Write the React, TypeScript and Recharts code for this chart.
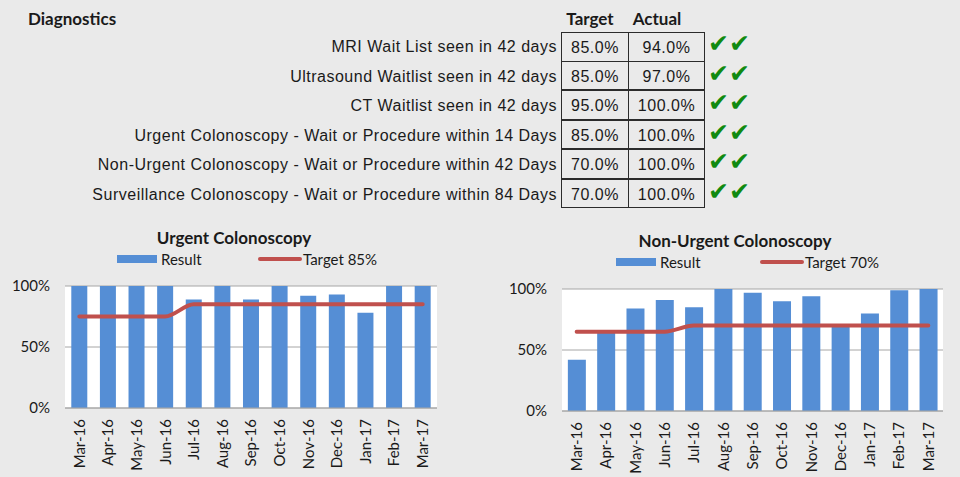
import React from 'react';
import { ComposedChart, Bar, Line, XAxis, YAxis, CartesianGrid } from 'recharts';

// table at the top
const measures = [
  'MRI Wait List seen in 42 days',
  'Ultrasound Waitlist seen in 42 days',
  'CT Waitlist seen in 42 days',
  'Urgent Colonoscopy - Wait or Procedure within 14 Days',
  'Non-Urgent Colonoscopy - Wait or Procedure within 42 Days',
  'Surveillance Colonoscopy - Wait or Procedure within 84 Days',
];
const targets = [85, 85, 95, 85, 70, 70];
const actuals = [94, 97, 100, 100, 100, 100];

// monthly charts
const months = [
  'Mar-16', 'Apr-16', 'May-16', 'Jun-16', 'Jul-16', 'Aug-16', 'Sep-16',
  'Oct-16', 'Nov-16', 'Dec-16', 'Jan-17', 'Feb-17', 'Mar-17',
];
const urgentResult = [100, 100, 100, 100, 89, 100, 89, 100, 92, 93, 78, 100, 100];
const urgentTarget = [75, 75, 75, 75, 85, 85, 85, 85, 85, 85, 85, 85, 85];
const nonUrgentResult = [42, 64, 84, 91, 85, 100, 97, 90, 94, 69, 80, 99, 100];
const nonUrgentTarget = [65, 65, 65, 65, 70, 70, 70, 70, 70, 70, 70, 70, 70];
const yTicks = [0, 50, 100];

const BLUE = '#558ed5';
const RED = '#c0504d';
const GRID = '#a6a6a6';
const BG = '#eaeaea';
const TEXT = '#1a1a1a';
const CHART_FONT = 'Lato, "Open Sans", sans-serif';
const TABLE_FONT = '"Liberation Sans", Arial, sans-serif';

const toRows = (result: number[], target: number[]) =>
  months.map((m, i) => ({ month: m, result: result[i], target: target[i] }));

const MonthTick = (props: any) => {
  const { x, y, payload } = props;
  return (
    <g transform={`translate(${x},${y})`}>
      <text
        transform="rotate(-90)"
        x={0}
        y={0}
        dy="0.36em"
        textAnchor="end"
        fontSize={15}
        fill={TEXT}
        fontFamily={CHART_FONT}
      >
        {payload.value}
      </text>
    </g>
  );
};

interface PanelProps {
  left: number;
  title: string;
  titleX: number;
  titleY: number;
  legendX: number;
  lineLegendX: number;
  legendY: number;
  targetLabel: string;
  data: { month: string; result: number; target: number }[];
  yWidth: number;
  xHeight: number;
  top: number;
  right: number;
  gap: string;
}

const Panel: React.FC<PanelProps> = (p) => (
  <div style={{ position: 'absolute', left: p.left, top: 220, width: 480, height: 257 }}>
    <div
      style={{
        position: 'absolute',
        left: p.titleX - 150,
        width: 300,
        top: p.titleY - 11,
        lineHeight: '22px',
        textAlign: 'center',
        fontFamily: CHART_FONT,
        fontWeight: 700,
        fontSize: 17,
        color: TEXT,
      }}
    >
      {p.title}
    </div>
    <div style={{ position: 'absolute', left: p.legendX, top: p.legendY - 4, width: 40, height: 8, background: BLUE }} />
    <div
      style={{
        position: 'absolute',
        left: p.legendX + 44,
        top: p.legendY - 10,
        lineHeight: '20px',
        fontFamily: CHART_FONT,
        fontSize: 15,
        color: TEXT,
      }}
    >
      Result
    </div>
    <div
      style={{
        position: 'absolute',
        left: p.lineLegendX,
        top: p.legendY - 2,
        width: 44,
        height: 4,
        borderRadius: 2,
        background: RED,
      }}
    />
    <div
      style={{
        position: 'absolute',
        left: p.lineLegendX + 45,
        top: p.legendY - 10,
        lineHeight: '20px',
        fontFamily: CHART_FONT,
        fontSize: 15,
        color: TEXT,
      }}
    >
      {p.targetLabel}
    </div>
    <ComposedChart
      width={480}
      height={257}
      data={p.data}
      margin={{ top: p.top, right: p.right, bottom: 0, left: 0 }}
      barCategoryGap={p.gap}
    >
      <CartesianGrid fill="#ffffff" stroke={GRID} vertical={false} />
      <XAxis
        dataKey="month"
        height={p.xHeight}
        interval={0}
        axisLine={{ stroke: GRID }}
        tickLine={false}
        tickSize={0}
        tickMargin={11}
        tick={<MonthTick />}
      />
      <YAxis
        width={p.yWidth}
        domain={[0, 100]}
        ticks={yTicks}
        axisLine={false}
        tickLine={false}
        tickSize={0}
        tickMargin={15}
        tickFormatter={(v: number) => `${v}%`}
        tick={{ fontSize: 15, fill: TEXT, fontFamily: CHART_FONT }}
      />
      <Bar dataKey="result" fill={BLUE} isAnimationActive={false} />
      <Line
        dataKey="target"
        type="monotone"
        stroke={RED}
        strokeWidth={4}
        strokeLinecap="round"
        dot={false}
        activeDot={false}
        isAnimationActive={false}
      />
    </ComposedChart>
  </div>
);

const ROW_TOP = 32;
const ROW_H = 29.5;

const headerStyle: React.CSSProperties = {
  position: 'absolute',
  width: 80,
  top: 8,
  lineHeight: '22px',
  textAlign: 'center',
  fontFamily: CHART_FONT,
  fontWeight: 700,
  fontSize: 17,
  color: TEXT,
};

const checkStyle: React.CSSProperties = {
  position: 'absolute',
  width: 22,
  lineHeight: '30px',
  fontFamily: '"DejaVu Sans", sans-serif',
  fontSize: 25,
  color: '#118a11',
};

const App: React.FC = () => (
  <div
    style={{
      position: 'absolute',
      left: 0,
      top: 0,
      width: 960,
      height: 477,
      background: BG,
      overflow: 'hidden',
    }}
  >
    <div
      style={{
        position: 'absolute',
        left: 28,
        top: 8,
        lineHeight: '22px',
        fontFamily: CHART_FONT,
        fontWeight: 700,
        fontSize: 17,
        color: TEXT,
      }}
    >
      Diagnostics
    </div>
    <div style={{ ...headerStyle, left: 550 }}>Target</div>
    <div style={{ ...headerStyle, left: 617 }}>Actual</div>
    {measures.map((m, i) => {
      const top = ROW_TOP + i * ROW_H;
      const ok = actuals[i] >= targets[i];
      const cell: React.CSSProperties = {
        position: 'absolute',
        top,
        height: ROW_H,
        lineHeight: `${ROW_H}px`,
        textAlign: 'center',
        boxSizing: 'border-box',
        border: '1px solid #2b2b2b',
        marginTop: i === 0 ? 0 : -1,
        fontFamily: TABLE_FONT,
        fontSize: 16,
        letterSpacing: 0.5,
        color: TEXT,
      };
      return (
        <React.Fragment key={m}>
          <div
            style={{
              position: 'absolute',
              right: 960 - 557,
              top,
              lineHeight: `${ROW_H}px`,
              whiteSpace: 'nowrap',
              fontFamily: TABLE_FONT,
              fontSize: 16,
              letterSpacing: 0.5,
              color: TEXT,
            }}
          >
            {m}
          </div>
          <div style={{ ...cell, left: 561, width: 68 }}>{targets[i].toFixed(1)}%</div>
          <div style={{ ...cell, left: 628, width: 77 }}>{actuals[i].toFixed(1)}%</div>
          {ok && <div style={{ ...checkStyle, left: 708, top: top - 3 }}>✔</div>}
          {ok && <div style={{ ...checkStyle, left: 729, top: top - 3 }}>✔</div>}
        </React.Fragment>
      );
    })}
    <Panel
      left={0}
      title="Urgent Colonoscopy"
      titleX={234}
      titleY={18}
      legendX={117}
      lineLegendX={258}
      legendY={39}
      targetLabel="Target 85%"
      data={toRows(urgentResult, urgentTarget)}
      yWidth={65}
      xHeight={69}
      top={66}
      right={43}
      gap="22%"
    />
    <Panel
      left={480}
      title="Non-Urgent Colonoscopy"
      titleX={255}
      titleY={21}
      legendX={136}
      lineLegendX={280}
      legendY={42}
      targetLabel="Target 70%"
      data={toRows(nonUrgentResult, nonUrgentTarget)}
      yWidth={82}
      xHeight={66}
      top={69}
      right={17}
      gap="20%"
    />
  </div>
);

export default App;
